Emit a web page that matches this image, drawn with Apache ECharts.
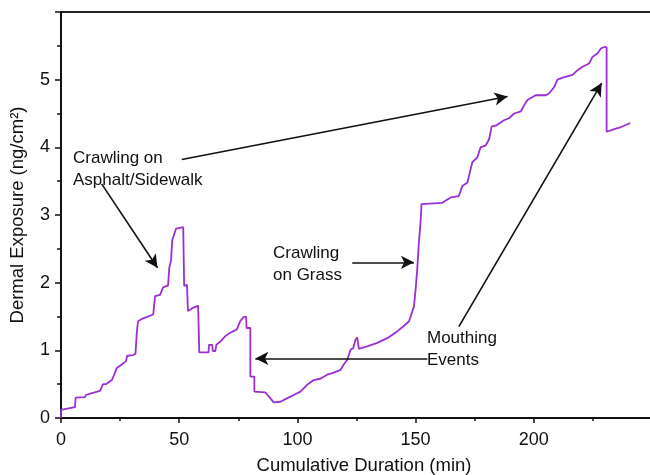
<!DOCTYPE html>
<html><head><meta charset="utf-8">
<script src="https://cdn.jsdelivr.net/npm/echarts@6/dist/echarts.min.js"></script>
<style>html,body{margin:0;padding:0;background:#fff}#c{width:650px;height:475px}</style>
</head><body><div id="c"></div>
<script>
// Cumulative duration (min) and dermal exposure (ng/cm2)
const minutes = [0,0,5.9,6.2,10.2,10.5,12.3,16.5,17.3,17.8,19,21.5,22.5,23.6,25.7,27.5,28,30.5,31.5,32.1,32.6,34,39,39.8,41.9,43.2,45.3,45.8,46.6,47,47.9,48.7,51.7,52.1,52.1,53.3,53.7,53.7,55.4,58,58.5,58.5,62.4,62.6,64,64.2,65.3,65.7,67.4,69.5,71.6,74.4,75.8,77.2,78.3,78.5,80.1,80.1,81.8,81.8,86.4,90,92.8,95.6,98.4,101.3,104.1,106.9,109.7,112.6,115.4,118.2,119.6,121.1,122.5,123.6,124.6,125.3,126,129.5,133.8,138,142.2,145,147.2,147.9,149.3,150,150.7,151.4,152.1,152.5,152.8,161.3,164.8,168.3,169.8,171.9,172.6,174,176.1,177.5,179.7,181.1,182.2,183.9,187.4,189.5,191.7,194.5,195.9,197.3,200.8,205.1,206.5,208.6,210,212.2,216.4,218.5,220.6,223.4,224.9,227,228.4,229.5,230.8,230.8,231.2,234,236.9,240.8];
const exposure = [0,0.12,0.16,0.30,0.31,0.34,0.36,0.40,0.40,0.50,0.50,0.56,0.64,0.74,0.79,0.84,0.92,0.93,0.95,1.28,1.43,1.46,1.53,1.80,1.82,1.93,1.96,2.22,2.34,2.62,2.72,2.80,2.82,2.82,1.95,1.97,1.97,1.58,1.62,1.66,1.66,0.97,0.97,1.08,1.08,0.99,0.99,1.08,1.13,1.21,1.26,1.31,1.43,1.49,1.50,1.33,1.33,0.61,0.61,0.39,0.38,0.23,0.24,0.29,0.34,0.39,0.49,0.56,0.58,0.64,0.67,0.71,0.79,0.86,1.01,1.03,1.16,1.19,1.02,1.06,1.11,1.18,1.28,1.36,1.43,1.50,1.65,1.90,2.20,2.60,2.89,3.16,3.18,3.18,3.26,3.28,3.43,3.48,3.58,3.78,3.85,4.00,4.03,4.12,4.31,4.32,4.40,4.43,4.50,4.53,4.62,4.70,4.77,4.77,4.80,4.89,5.00,5.03,5.07,5.14,5.19,5.24,5.34,5.39,5.46,5.48,5.48,4.23,4.23,4.27,4.30,4.36];
const xTicks = [0,50,100,150,200];
const yTicks = [0,1,2,3,4,5];
// annotation arrows in data coordinates: [x1,y1,x2,y2]
const arrows = [
  [17.2,3.46,40.8,2.22],
  [51.1,3.82,188.9,4.75],
  [123.2,2.30,149.3,2.30],
  [155,0.88,82.2,0.88],
  [168.3,1.35,228.7,4.95]
];
const notes = [
  {text:'Crawling on\nAsphalt/Sidewalk', x:73, y:147},
  {text:'Crawling\non Grass', x:273, y:242},
  {text:'Mouthing\nEvents', x:427, y:327}
];

const FONT = 'Liberation Sans, Arial, Helvetica, sans-serif';
const chart = echarts.init(document.getElementById('c'), null, {renderer:'canvas'});
chart.setOption({
  animation:false,
  backgroundColor:'#fff',
  grid:{left:61, top:12, width:591, height:406, show:true, borderColor:'#222', borderWidth:2,
    outerBoundsMode:'none', containLabel:false},
  xAxis:{type:'value', min:0, max:250, interval:50,
    name:'Cumulative Duration (min)', nameLocation:'middle', nameGap:38,
    nameTextStyle:{fontFamily:FONT, fontSize:18.5, color:'#111', padding:[0,0,0,15]},
    axisLine:{show:true, onZero:false, lineStyle:{color:'#111', width:2}},
    axisTick:{show:true, length:5, lineStyle:{color:'#111', width:1.5}},
    minorTick:{show:true, splitNumber:2, length:3, lineStyle:{color:'#111', width:1.5}},
    axisLabel:{margin:13, fontFamily:FONT, fontSize:18, color:'#111',
      formatter:v=>xTicks.includes(v)?String(v):''},
    splitLine:{show:false}},
  yAxis:{type:'value', min:0, max:6, interval:1,
    name:'Dermal Exposure (ng/cm²)', nameLocation:'middle', nameGap:34,
    nameTextStyle:{fontFamily:FONT, fontSize:18.5, color:'#111'},
    axisLine:{show:true, lineStyle:{color:'#111', width:2}},
    axisTick:{show:true, length:6, lineStyle:{color:'#111', width:1.5}},
    minorTick:{show:true, splitNumber:2, length:4, lineStyle:{color:'#111', width:1.5}},
    axisLabel:{margin:11, fontFamily:FONT, fontSize:18, color:'#111',
      formatter:v=>yTicks.includes(v)?String(v):''},
    splitLine:{show:false}},
  series:[{
    type:'line', data:minutes.map((m,i)=>[m,exposure[i]]),
    showSymbol:false, symbol:'none',
    lineStyle:{color:'#9a2fd4', width:1.8},
    emphasis:{disabled:true},
    markLine:{silent:true, symbol:['none','arrow'], symbolSize:[10,13],
      label:{show:false}, emphasis:{disabled:true},
      lineStyle:{color:'#111', width:1.6, type:'solid'},
      data:arrows.map(a=>[{coord:[a[0],a[1]]},{coord:[a[2],a[3]]}])}
  }],
  graphic:notes.map(n=>({type:'text', left:n.x, top:n.y, silent:true,
    style:{text:n.text, font:'17px '+FONT, fill:'#111', lineHeight:22}}))
});
</script></body></html>
